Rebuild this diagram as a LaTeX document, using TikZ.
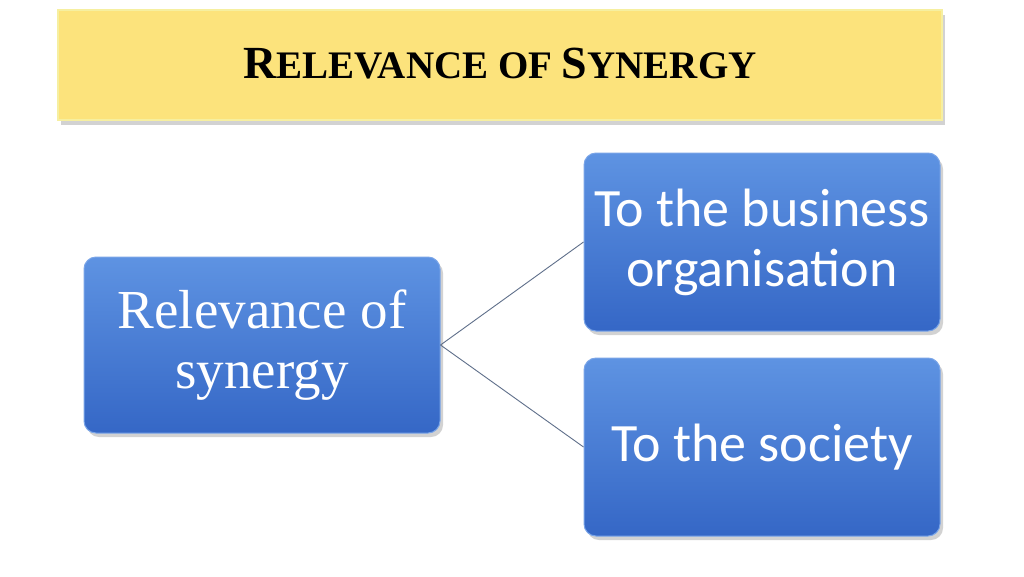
\documentclass[tikz,border=0pt]{standalone}
\usepackage{fontspec}
\setmainfont{Liberation Serif}
\newfontfamily\calib{Carlito}
\usetikzlibrary{shadows}
\definecolor{ttl}{HTML}{FCE37C}
\definecolor{ttlb}{HTML}{F6EFA0}
\definecolor{btop}{HTML}{5E93E2}
\definecolor{bbot}{HTML}{3567C6}
\definecolor{bedge}{HTML}{7AA5E8}
\definecolor{lnk}{HTML}{5F6F8A}
\tikzset{
  bluebox/.style={rounded corners=12pt, top color=btop, bottom color=bbot, draw=bedge, line width=1pt,
    drop shadow={shadow xshift=3pt, shadow yshift=-4pt, fill=black!35, opacity=0.5},
    text=white, align=center, minimum width=356pt, minimum height=178pt, inner sep=0pt},
  link/.style={draw=lnk, line width=0.9pt}
}
\newcommand\bigc[1]{{\fontsize{46}{48}\selectfont #1}}
\begin{document}
\begin{tikzpicture}[x=1pt,y=-1pt]
\useasboundingbox[fill=white] (0,0) rectangle (1024,576);
\node[fill=ttl, draw=ttlb, line width=2pt, minimum width=884pt, minimum height=110pt,
  drop shadow={shadow xshift=3pt, shadow yshift=-5pt, fill=black!35, opacity=0.5}] (title) at (500,65) {};
\node[font=\fontsize{39}{44}\selectfont\bfseries] (tt) at (500,64) {\bigc{R}ELEVANCE OF \bigc{S}YNERGY};
\node[bluebox, minimum height=176pt, font=\fontsize{55}{60}\selectfont] (rel) at (262,345) {Relevance of\\synergy};
\node[bluebox, font=\calib\fontsize{54}{60}\selectfont] (bus) at (762,242) {To the business\\organisation};
\node[bluebox, font=\calib\fontsize{54}{60}\selectfont] (soc) at (762,447) {To the society};
\draw[link] (rel.east) -- (bus.west);
\draw[link] (rel.east) -- (soc.west);
\end{tikzpicture}
\end{document}
